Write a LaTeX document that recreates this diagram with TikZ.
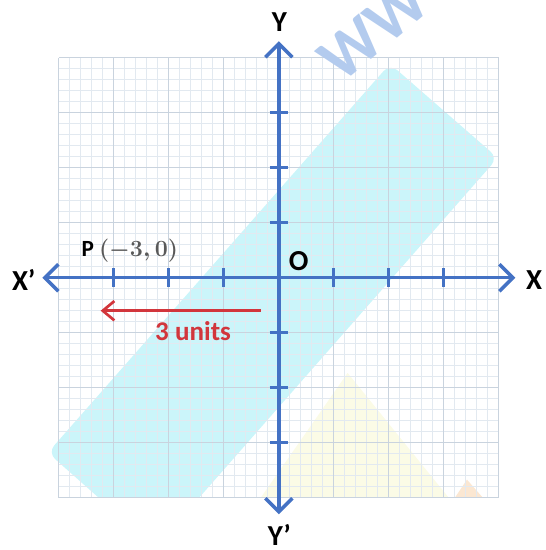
\documentclass[tikz,border=0pt]{standalone}
\usepackage{amsmath, amssymb}
\usepackage{fontspec}
\setmainfont{Carlito}
\usepackage{xcolor}
\usetikzlibrary{arrows.meta}

\definecolor{axisblue}{HTML}{4472C4}
\definecolor{bandcyan}{HTML}{CBF5FA}
\definecolor{gridmajor}{HTML}{C9D3DE}
\definecolor{gridminor}{HTML}{E2E9F0}
\definecolor{unitred}{HTML}{D2363C}
\definecolor{markblue}{HTML}{B3CBEE}
\definecolor{paleyellow}{HTML}{FBFBE6}
\definecolor{palepeach}{HTML}{FBE7D2}

\begin{document}
\begin{tikzpicture}[
            every node/.style={inner sep=0pt, font=\bfseries},
            axis style/.style={{Straight Barb[length=7pt, width=14pt]}-{Straight Barb[length=7pt, width=14pt]}, line width=1.8pt, axisblue},
            tick style/.style={line width=1.5pt, axisblue},
            arrow style/.style={-{Straight Barb[length=6pt, width=10pt]}, line width=1.4pt, unitred},
            axis label/.style={font=\bfseries\fontsize{15}{15}\selectfont}
        ]

        \useasboundingbox (-5.07,-4.95) rectangle (4.85,5.05);

        % background shapes
        \fill[paleyellow] (-0.33,-4) -- (1.25,-1.73) -- (3.09,-4) -- cycle;
        \fill[palepeach] (3.2,-4) -- (3.42,-3.67) -- (3.71,-4) -- cycle;
        \begin{scope}
            \clip (-5,-4) rectangle (5,5);
            \fill[bandcyan, rounded corners=5pt] (2.02,3.89) -- (3.98,2.18) -- (-2.25,-4.91) -- (-4.20,-3.18) -- cycle;
        \end{scope}

        % grid
        \draw[gridminor, line width=0.4pt] (-4,-4) grid[step=0.2] (4,4);
        \draw[gridmajor, line width=0.6pt] (-4,-4) grid[step=1] (4,4);

        % watermark
        \begin{scope}
            \clip (-5.07,-4.95) rectangle (4.85,5.05);
            \node[text=markblue, rotate=40, font=\bfseries\fontsize{34}{34}\selectfont] (mark) at (1.72,4.5) {WW};
        \end{scope}

        % axes
        \coordinate (xl) at (-4.3,0);
        \coordinate (xr) at (4.3,0);
        \coordinate (yt) at (0,4.3);
        \coordinate (yb) at (0,-4.3);
        \draw[axis style] (xl) -- (xr);
        \draw[axis style] (yb) -- (yt);

        \foreach \t in {-3,-2,-1,1,2,3} {
            \draw[tick style] (\t,-0.17) -- (\t,0.17);
            \draw[tick style] (-0.17,\t) -- (0.17,\t);
        }

        \node[axis label] (X') at (-4.64,-0.04) {X’};
        \node[axis label] (X) at (4.64,-0.04) {X};
        \node[axis label] (Y) at (0.01,4.65) {Y};
        \node[axis label] (Y') at (0.01,-4.67) {Y’};
        \node[axis label] (O) at (0.36,0.31) {O};

        \node[font=\bfseries\fontsize{12}{12}\selectfont] (P) at (-2.71,0.49) {P \textcolor{black!65}{$\boldsymbol{(-3,0)}$}};

        % shift arrow
        \coordinate (shiftA) at (-0.33,-0.6);
        \coordinate (shiftB) at (-3.24,-0.6);
        \draw[arrow style] (shiftA) -- (shiftB);
        \node[text=unitred, font=\bfseries\fontsize{14}{14}\selectfont] (units) at (-1.56,-0.97) {3 units};
        \end{tikzpicture}
\end{document}
